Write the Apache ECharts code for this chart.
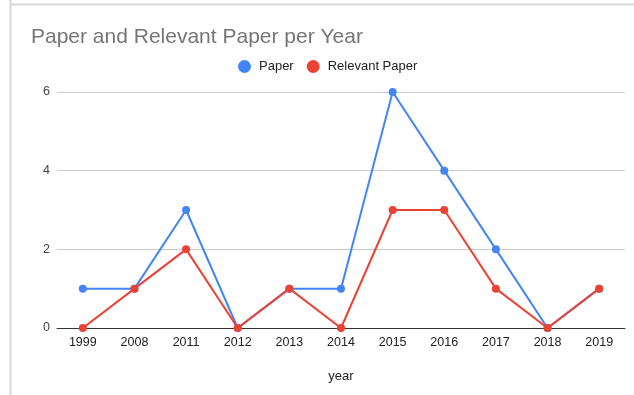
<!DOCTYPE html>
<html><head><meta charset="utf-8">
<script src="https://cdn.jsdelivr.net/npm/echarts@6/dist/echarts.min.js"></script>
<style>html,body{margin:0;padding:0;background:#fff}#c{width:634px;height:395px}</style>
</head><body><div id="c"></div>
<script>
const categories = ['1999','2008','2011','2012','2013','2014','2015','2016','2017','2018','2019'];
const paper = [1,1,3,0,1,1,6,4,2,0,1];
const relevantPaper = [0,1,2,0,1,0,3,3,1,0,1];
const yTicks = [0,2,4,6];

const chart = echarts.init(document.getElementById('c'), null, {renderer:'canvas'});
const font = 'Liberation Sans, Arial, sans-serif';
chart.setOption({
  backgroundColor: '#fff',
  animation: false,
  textStyle: {fontFamily: font},
  graphic: [
    {type:'line', shape:{x1:10.5,y1:0,x2:10.5,y2:395}, style:{stroke:'#d6d6d6', lineWidth:2}},
    {type:'line', shape:{x1:10,y1:4.5,x2:634,y2:4.5}, style:{stroke:'#d6d6d6', lineWidth:2}}
  ],
  title: {
    text: 'Paper and Relevant Paper per Year',
    left: 26, top: 22,
    textStyle: {fontFamily: font, fontSize: 21, fontWeight: 'normal', color: '#757575'}
  },
  legend: {
    top: 55, left: 233,
    icon: 'circle', itemWidth: 13, itemHeight: 13, itemGap: 13,
    textStyle: {fontFamily: font, fontSize: 13, color: '#222', padding: [0,0,0,3]},
    data: ['Paper','Relevant Paper']
  },
  grid: {left: 57, right: 9, top: 92, bottom: 67},
  xAxis: {
    type: 'category', data: categories, boundaryGap: true,
    name: 'year', nameLocation: 'middle', nameGap: 42,
    nameTextStyle: {fontFamily: font, fontSize: 13, color: '#222'},
    axisLine: {lineStyle: {color: '#333', width: 1}},
    axisTick: {show: false},
    axisLabel: {fontFamily: font, fontSize: 12.5, color: '#222', margin: 8, interval: 0}
  },
  yAxis: {
    type: 'value', min: 0, max: 6, interval: 2,
    axisLine: {show: false}, axisTick: {show: false},
    axisLabel: {fontFamily: font, fontSize: 12.5, color: '#444', margin: 7,
      formatter: v => yTicks.includes(v) ? String(v) : ''},
    splitLine: {lineStyle: {color: '#ccc', width: 1}}
  },
  series: [
    {name: 'Paper', type: 'line', data: paper, color: '#4285F4',
     symbol: 'circle', symbolSize: 8, lineStyle: {width: 2}, itemStyle:{color:'#4285F4'}},
    {name: 'Relevant Paper', type: 'line', data: relevantPaper, color: '#EA4335',
     symbol: 'circle', symbolSize: 8, lineStyle: {width: 2}, itemStyle:{color:'#EA4335'}}
  ]
});
</script></body></html>
